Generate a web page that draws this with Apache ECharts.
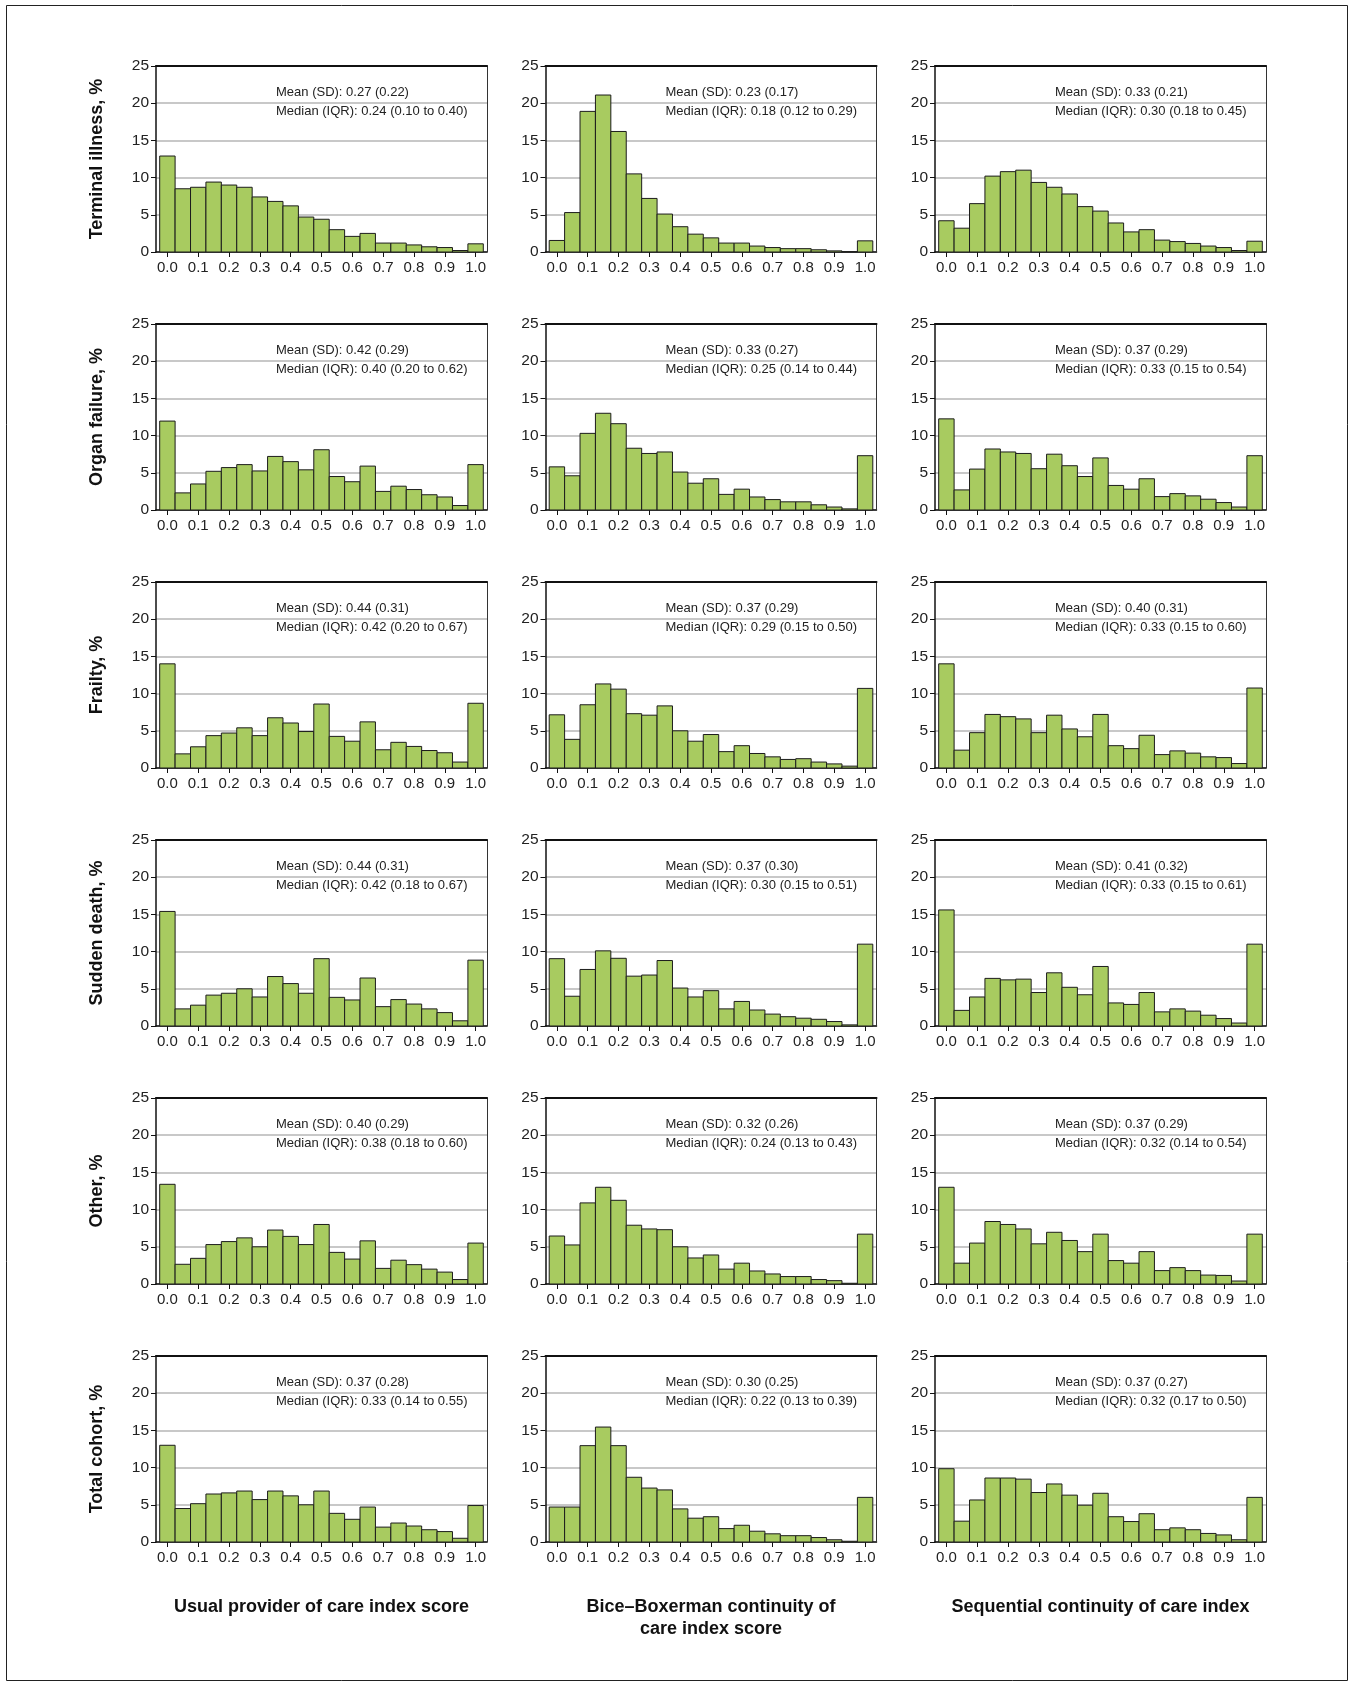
<!DOCTYPE html>
<html>
<head>
<meta charset="utf-8">
<script src="https://cdn.jsdelivr.net/npm/echarts@6/dist/echarts.min.js"></script>
<style>
html,body{margin:0;padding:0;background:#fff;}
#chart{width:1353px;height:1684px;}
</style>
</head>
<body>
<div id="chart"></div>
<script>
// ---- data ----
var binCenters = [0.00,0.05,0.10,0.15,0.20,0.25,0.30,0.35,0.40,0.45,0.50,0.55,0.60,0.65,0.70,0.75,0.80,0.85,0.90,0.95,1.00];
var xTickValues = [0.0,0.1,0.2,0.3,0.4,0.5,0.6,0.7,0.8,0.9,1.0];
var yTickValues = [0,5,10,15,20,25];
var rowNames = ["Terminal illness, %","Organ failure, %","Frailty, %","Sudden death, %","Other, %","Total cohort, %"];
var colNames = ["Usual provider of care index score","Bice\u2013Boxerman continuity of\ncare index score","Sequential continuity of care index"];

// UPC = usual provider of care, BB = Bice-Boxerman, SECON = sequential continuity
var terminalUPC   = [12.9,8.5,8.7,9.4,9.0,8.7,7.4,6.8,6.2,4.7,4.4,3.0,2.1,2.5,1.2,1.2,0.95,0.7,0.6,0.2,1.1];
var terminalBB    = [1.55,5.3,18.9,21.1,16.2,10.5,7.2,5.1,3.4,2.4,1.9,1.2,1.2,0.8,0.6,0.45,0.45,0.3,0.15,0.05,1.5];
var terminalSECON = [4.2,3.2,6.5,10.2,10.8,11.0,9.35,8.7,7.8,6.1,5.5,3.9,2.7,3.0,1.6,1.4,1.15,0.8,0.6,0.2,1.45];

var organUPC   = [11.95,2.3,3.5,5.2,5.7,6.1,5.25,7.2,6.5,5.4,8.1,4.5,3.8,5.9,2.5,3.2,2.75,2.05,1.75,0.6,6.1];
var organBB    = [5.8,4.6,10.3,13.0,11.6,8.3,7.6,7.8,5.1,3.6,4.2,2.1,2.8,1.75,1.4,1.1,1.1,0.7,0.4,0.15,7.3];
var organSECON = [12.25,2.7,5.5,8.2,7.8,7.6,5.55,7.5,5.95,4.5,7.0,3.3,2.8,4.2,1.8,2.2,1.9,1.45,1.0,0.4,7.3];

var frailtyUPC   = [14.0,1.9,2.85,4.35,4.7,5.4,4.35,6.75,6.05,4.9,8.6,4.25,3.6,6.2,2.45,3.45,2.9,2.35,2.05,0.8,8.7];
var frailtyBB    = [7.15,3.85,8.5,11.3,10.6,7.3,7.1,8.35,5.0,3.6,4.5,2.2,3.0,1.95,1.5,1.15,1.25,0.8,0.55,0.25,10.7];
var frailtySECON = [14.0,2.4,4.75,7.2,6.9,6.6,4.75,7.1,5.25,4.2,7.2,3.0,2.6,4.4,1.8,2.3,2.0,1.5,1.4,0.6,10.75];

var suddenUPC   = [15.4,2.3,2.8,4.15,4.4,5.0,3.9,6.65,5.7,4.4,9.05,3.85,3.5,6.45,2.6,3.55,2.95,2.3,1.8,0.7,8.85];
var suddenBB    = [9.05,4.0,7.6,10.1,9.1,6.7,6.85,8.8,5.1,3.9,4.75,2.3,3.3,2.15,1.6,1.25,1.05,0.9,0.6,0.15,11.0];
var suddenSECON = [15.6,2.1,3.9,6.4,6.2,6.3,4.5,7.15,5.2,4.2,8.0,3.1,2.9,4.5,1.9,2.3,2.0,1.45,1.0,0.4,11.0];

var otherUPC   = [13.4,2.65,3.45,5.3,5.7,6.2,5.0,7.25,6.4,5.3,8.0,4.25,3.35,5.8,2.1,3.2,2.6,2.0,1.6,0.6,5.5];
var otherBB    = [6.45,5.25,10.9,13.0,11.25,7.9,7.4,7.3,5.0,3.5,3.9,2.0,2.8,1.75,1.35,1.0,1.0,0.6,0.45,0.1,6.7];
var otherSECON = [13.0,2.8,5.5,8.4,8.0,7.4,5.4,6.95,5.85,4.35,6.7,3.15,2.8,4.35,1.8,2.2,1.8,1.2,1.15,0.4,6.7];

var totalUPC   = [13.0,4.5,5.15,6.45,6.6,6.85,5.7,6.85,6.2,5.0,6.85,3.85,3.05,4.7,2.0,2.55,2.15,1.65,1.4,0.5,4.9];
var totalBB    = [4.7,4.7,12.95,15.45,12.95,8.7,7.25,7.0,4.45,3.2,3.4,1.8,2.25,1.45,1.1,0.85,0.85,0.6,0.3,0.1,6.0];
var totalSECON = [9.85,2.8,5.65,8.6,8.6,8.45,6.65,7.8,6.3,4.95,6.55,3.4,2.75,3.8,1.65,1.9,1.65,1.15,0.95,0.3,6.0];

var meanSD = [
  ["0.27 (0.22)","0.23 (0.17)","0.33 (0.21)"],
  ["0.42 (0.29)","0.33 (0.27)","0.37 (0.29)"],
  ["0.44 (0.31)","0.37 (0.29)","0.40 (0.31)"],
  ["0.44 (0.31)","0.37 (0.30)","0.41 (0.32)"],
  ["0.40 (0.29)","0.32 (0.26)","0.37 (0.29)"],
  ["0.37 (0.28)","0.30 (0.25)","0.37 (0.27)"]
];
var medianIQR = [
  ["0.24 (0.10 to 0.40)","0.18 (0.12 to 0.29)","0.30 (0.18 to 0.45)"],
  ["0.40 (0.20 to 0.62)","0.25 (0.14 to 0.44)","0.33 (0.15 to 0.54)"],
  ["0.42 (0.20 to 0.67)","0.29 (0.15 to 0.50)","0.33 (0.15 to 0.60)"],
  ["0.42 (0.18 to 0.67)","0.30 (0.15 to 0.51)","0.33 (0.15 to 0.61)"],
  ["0.38 (0.18 to 0.60)","0.24 (0.13 to 0.43)","0.32 (0.14 to 0.54)"],
  ["0.33 (0.14 to 0.55)","0.22 (0.13 to 0.39)","0.32 (0.17 to 0.50)"]
];

var panelValues = [
  [terminalUPC, terminalBB, terminalSECON],
  [organUPC, organBB, organSECON],
  [frailtyUPC, frailtyBB, frailtySECON],
  [suddenUPC, suddenBB, suddenSECON],
  [otherUPC, otherBB, otherSECON],
  [totalUPC, totalBB, totalSECON]
];

(function () {
  // ---- layout / style ----
  var FONT = "'Liberation Sans', Arial, Helvetica, sans-serif";
  var BIN_HALF = 0.025;
  var X_MIN = -0.037, X_MAX = 1.037;
  var gridLefts = [156, 545.5, 935];
  var gridWidth = 331;
  var gridTop0 = 66, rowStep = 258, gridHeight = 186;
  var barFill = '#a8cb60', barStroke = '#1c1c1c';

  var grids = [], xAxes = [], yAxes = [], series = [], graphics = [];
  var idx = 0;
  for (var r = 0; r < 6; r++) {
    for (var c = 0; c < 3; c++) {
      var gTop = gridTop0 + r * rowStep;
      var gLeft = gridLefts[c];
      grids.push({left: gLeft, top: gTop, width: gridWidth, height: gridHeight});
      xAxes.push({
        type: 'value', gridIndex: idx, min: X_MIN, max: X_MAX, position: 'bottom',
        axisLine: {show: true, onZero: false, lineStyle: {color: '#111', width: 1.5}},
        axisTick: {show: true, length: 5, lineStyle: {color: '#111', width: 1}, customValues: xTickValues},
        axisLabel: {show: true, fontFamily: FONT, fontSize: 15, color: '#222', margin: 8,
          customValues: xTickValues, formatter: function (v) { return Number(v).toFixed(1); }},
        splitLine: {show: false}
      });
      xAxes.push({
        type: 'value', gridIndex: idx, min: X_MIN, max: X_MAX, position: 'top', z: 3,
        axisLine: {show: true, onZero: false, lineStyle: {color: '#111', width: 2}},
        axisTick: {show: false}, axisLabel: {show: false}, splitLine: {show: false}
      });
      yAxes.push({
        type: 'value', gridIndex: idx, min: 0, max: 25, interval: 5, position: 'left',
        name: c === 0 ? rowNames[r] : '', nameLocation: 'middle', nameRotate: 90, nameGap: 50,
        nameTextStyle: {fontFamily: FONT, fontSize: 18, fontWeight: 'bold', color: '#111'},
        axisLine: {show: true, onZero: false, lineStyle: {color: '#111', width: 1.5}},
        axisTick: {show: true, length: 5, lineStyle: {color: '#111', width: 1}},
        axisLabel: {show: true, fontFamily: FONT, fontSize: 15.5, color: '#222', margin: 7},
        splitLine: {show: true, lineStyle: {color: '#c8c8c8', width: 2}}
      });
      yAxes.push({
        type: 'value', gridIndex: idx, min: 0, max: 25, interval: 5, position: 'right', z: 3,
        axisLine: {show: true, onZero: false, lineStyle: {color: '#333', width: 1}},
        axisTick: {show: false}, axisLabel: {show: false}, splitLine: {show: false}
      });
      var vals = panelValues[r][c];
      var data = [];
      for (var k = 0; k < binCenters.length; k++) data.push([binCenters[k], vals[k]]);
      series.push({
        type: 'custom', xAxisIndex: idx * 2, yAxisIndex: idx * 2, z: 2,
        data: data,
        renderItem: function (params, api) {
          var cx = api.value(0), v = api.value(1);
          var p0 = api.coord([cx - BIN_HALF, v]);
          var p1 = api.coord([cx + BIN_HALF, 0]);
          return {type: 'rect',
            shape: {x: p0[0], y: p0[1], width: p1[0] - p0[0], height: p1[1] - p0[1]},
            style: {fill: barFill, stroke: barStroke, lineWidth: 1}};
        }
      });
      graphics.push({type: 'text', x: gLeft + 120, y: gTop + 20, z: 10,
        style: {text: 'Mean (SD): ' + meanSD[r][c], fontFamily: FONT, fontSize: 13, fill: '#222', verticalAlign: 'top'}});
      graphics.push({type: 'text', x: gLeft + 120, y: gTop + 39, z: 10,
        style: {text: 'Median (IQR): ' + medianIQR[r][c], fontFamily: FONT, fontSize: 13, fill: '#222', verticalAlign: 'top'}});
      idx++;
    }
  }
  for (var c2 = 0; c2 < 3; c2++) {
    graphics.push({type: 'text', x: gridLefts[c2] + gridWidth / 2, y: 1596, z: 10,
      style: {text: colNames[c2], fontFamily: FONT, fontSize: 18, fontWeight: 'bold', fill: '#111',
        align: 'center', verticalAlign: 'top', lineHeight: 22}});
  }
  graphics.push({type: 'rect', shape: {x: 6.5, y: 5.5, width: 1341, height: 1675}, z: 0,
    style: {fill: 'none', stroke: '#222', lineWidth: 1}});

  var chart = echarts.init(document.getElementById('chart'), null, {renderer: 'canvas'});
  chart.setOption({
    animation: false,
    backgroundColor: '#ffffff',
    grid: grids,
    xAxis: xAxes,
    yAxis: yAxes,
    series: series,
    graphic: graphics
  });
})();
</script>
</body>
</html>
